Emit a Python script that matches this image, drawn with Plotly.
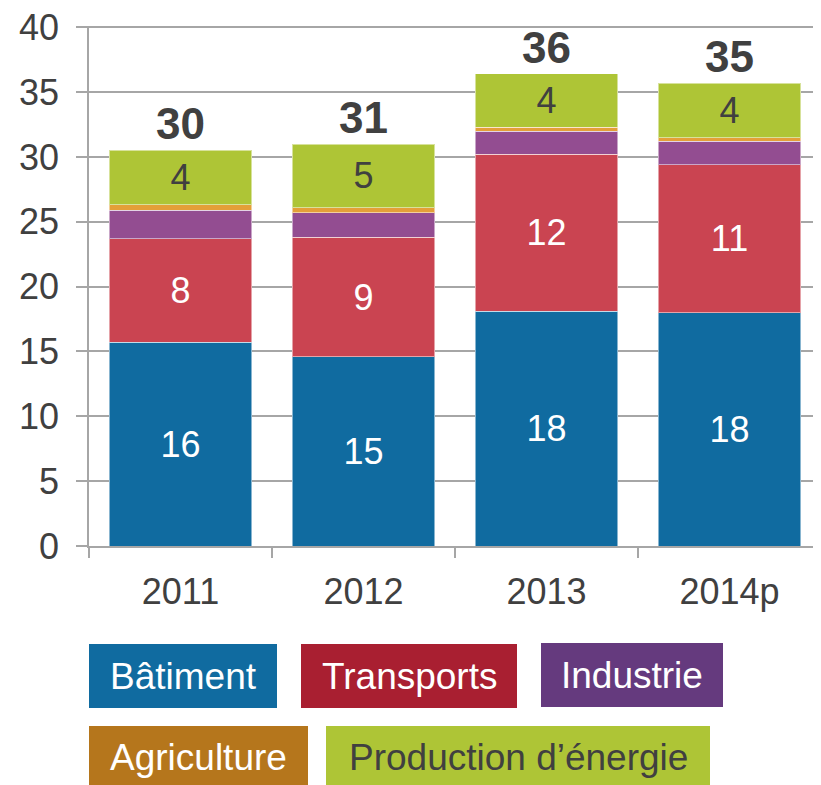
# Stacked bars: emissions by sector, 2011-2014p
import plotly.graph_objects as go

# Data
years = ['2011', '2012', '2013', '2014p']
batiment = [15.7, 14.6, 18.1, 18.0]
transports = [8.0, 9.2, 12.1, 11.4]
industrie = [2.2, 1.9, 1.8, 1.8]
agriculture = [0.4, 0.4, 0.3, 0.3]
energie = [4.2, 4.9, 4.1, 4.2]
totals = [30, 31, 36, 35]

sectors = ['Bâtiment', 'Transports', 'Industrie', 'Agriculture', "Production d’énergie"]
bar_colors = ['#106ba0', '#ca4451', '#934d91', '#e49f38', '#aec536']
legend_colors = ['#106ba0', '#a91f31', '#653a7e', '#b5761c', '#aec536']
label_colors = ['white', 'white', None, None, '#404040']
series = [batiment, transports, industrie, agriculture, energie]

FONT = 'Liberation Sans, Arial, sans-serif'
OFF = 8  # the page body margin shifts the figure by 8px
YMAX = 40.1
W, H = 821 - OFF, 785 - OFF
L, R, B = 89 - OFF, 0, 785 - 546
T = round(27 - OFF - (YMAX - 40) * (546 - 27) / 40)
pw, ph = W - L - R, H - T - B

fig = go.Figure()
for name, vals, col, lcol in zip(sectors, series, bar_colors, label_colors):
    text = [f'{v:.0f}' for v in vals] if lcol else None
    fig.add_trace(go.Bar(
        x=years, y=vals, name=name, marker_color=col,
        marker_line=dict(color='rgba(255,255,255,0.5)', width=1),
        text=text, textposition='inside' if lcol else 'none',
        insidetextanchor='middle', textangle=0,
        textfont=dict(family=FONT, size=36, color=lcol or 'white'),
        hoverinfo='x+y+name',
    ))

# Totals above the stacks
stack_tops = [sum(v) for v in zip(*series)]
for i, (top, tot) in enumerate(zip(stack_tops, totals)):
    fig.add_annotation(x=i, y=top, text=f'<b>{tot}</b>', showarrow=False,
                       yanchor='bottom', yshift=0,
                       font=dict(family=FONT, size=44, color='#404040'))

# Custom legend boxes (reference pixel positions converted to paper coords)
def px(x):
    return (x - OFF - L) / pw

def py(y):
    return (H - B - (y - OFF)) / ph

boxes = [(89, 644, 277, 708), (301, 644, 517, 708), (541, 643, 723, 707),
         (89, 726, 308, 790), (326, 726, 710, 790)]
for name, col, (x0, y0, x1, y1) in zip(sectors, legend_colors, boxes):
    fig.add_shape(type='rect', xref='paper', yref='paper',
                  x0=px(x0), x1=px(x1), y0=py(y1), y1=py(y0),
                  fillcolor=col, line_width=0, layer='above')
    tcol = '#404040' if name.startswith('Production') else 'white'
    fig.add_annotation(xref='paper', yref='paper', x=px((x0 + x1) / 2),
                       y=py((y0 + y1) / 2), text=name, showarrow=False,
                       xanchor='center', yanchor='middle',
                       font=dict(family=FONT, size=37, color=tcol))

fig.update_layout(
    barmode='stack', bargap=0.22, showlegend=False,
    width=W, height=H, margin=dict(l=L, r=R, t=T, b=B, autoexpand=False),
    paper_bgcolor='white', plot_bgcolor='white',
    font=dict(family=FONT, color='#404040'),
    xaxis=dict(type='category', range=[-0.5, 3.5], automargin=False,
               showline=True, linecolor='#a6a6a6', linewidth=1.5,
               ticks='outside', tickson='boundaries', ticklen=10,
               tickcolor='#a6a6a6', tickwidth=1.5, tickangle=0,
               ticklabelstandoff=13,
               tickfont=dict(size=36, color='#404040')),
    yaxis=dict(range=[0, YMAX], tickvals=list(range(0, 41, 5)),
               automargin=False, showline=True, ticklabeloverflow='allow',
               linecolor='#a6a6a6', linewidth=1.5, ticks='outside', ticklen=11,
               tickcolor='#a6a6a6', tickwidth=1.5, showgrid=True,
               gridcolor='#a6a6a6', gridwidth=1.5, zeroline=False,
               ticklabelstandoff=10,
               tickfont=dict(size=36, color='#404040')),
)

fig.write_html('out.html')
